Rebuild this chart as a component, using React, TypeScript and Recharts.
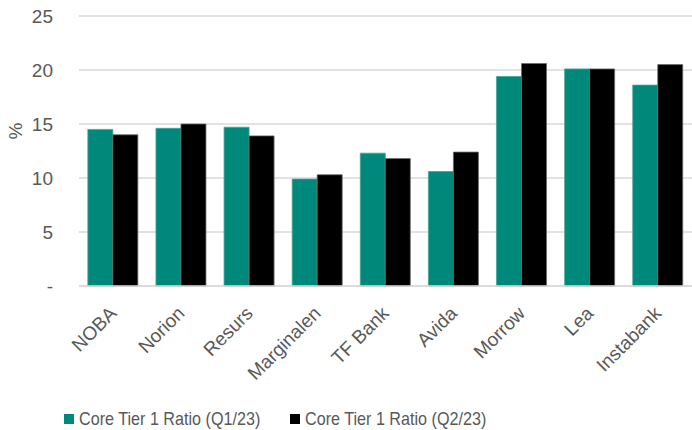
import { BarChart, Bar, XAxis, YAxis, CartesianGrid, Legend } from 'recharts'

const banks = ['NOBA', 'Norion', 'Resurs', 'Marginalen', 'TF Bank', 'Avida', 'Morrow', 'Lea', 'Instabank']
const q1 = [14.5, 14.6, 14.7, 9.9, 12.3, 10.6, 19.4, 20.1, 18.6]
const q2 = [14.0, 15.0, 13.9, 10.3, 11.8, 12.4, 20.6, 20.1, 20.5]
const yTicks = [0, 5, 10, 15, 20, 25]

const seriesNames = ['Core Tier 1 Ratio (Q1/23)', 'Core Tier 1 Ratio (Q2/23)']
const TEAL = '#00897B'
const TEXT = '#595959'
const FONT = "'Liberation Sans', Arial, sans-serif"

const data = banks.map((name, i) => ({ name, q1: q1[i], q2: q2[i] }))

function AngledTick({ x, y, payload }: any) {
  const ty = y + 16
  return (
    <text
      x={x}
      y={ty}
      transform={`rotate(-45, ${x}, ${ty})`}
      textAnchor="end"
      dominantBaseline="central"
      fill={TEXT}
      fontSize={19}
      fontFamily={FONT}
    >
      {payload.value}
    </text>
  )
}

function PctLabel({ viewBox }: any) {
  const cx = 15
  const cy = viewBox.y + viewBox.height / 2 - 20
  return (
    <text
      x={cx}
      y={cy}
      transform={`rotate(-90, ${cx}, ${cy})`}
      textAnchor="middle"
      dominantBaseline="central"
      fill={TEXT}
      fontSize={19}
      fontFamily={FONT}
    >
      %
    </text>
  )
}

// the original legend uses a narrow face; squeeze the regular one instead
function LegendBox() {
  const colors = [TEAL, '#000000']
  return (
    <div style={{ height: 34, paddingTop: 12, paddingLeft: 64, display: 'flex', boxSizing: 'border-box' }}>
      {seriesNames.map((s, i) => (
        <div key={s} style={{ display: 'flex', alignItems: 'center', width: 226, height: 22 }}>
          <span style={{ width: 10, height: 10, background: colors[i], marginRight: 5, display: 'inline-block', flex: 'none' }} />
          <span
            style={{
              fontFamily: FONT,
              fontSize: 19,
              color: TEXT,
              whiteSpace: 'nowrap',
              display: 'inline-block',
              transform: 'scaleX(0.85)',
              transformOrigin: 'left center',
            }}
          >
            {s}
          </span>
        </div>
      ))}
    </div>
  )
}

export default function App() {
  return (
    <div style={{ position: 'absolute', left: 0, top: 0, width: 692, height: 430, background: '#fff' }}>
      <BarChart
        width={692}
        height={430}
        data={data}
        margin={{ top: 16, right: 0, bottom: 0, left: 0 }}
        barCategoryGap="13%"
        barGap={0}
      >
        <CartesianGrid vertical={false} stroke="#D9D9D9" strokeWidth={1.3} />
        <XAxis
          dataKey="name"
          interval={0}
          height={110}
          tickLine={false}
          axisLine={{ stroke: '#D9D9D9', strokeWidth: 1.3 }}
          tick={<AngledTick />}
        />
        <YAxis
          width={79}
          domain={[0, 25]}
          ticks={yTicks}
          tickLine={false}
          axisLine={false}
          tickMargin={20}
          tickFormatter={(v: number) => (v === 0 ? '-' : String(v))}
          tick={{ fill: TEXT, fontSize: 19, fontFamily: FONT }}
          label={<PctLabel />}
        />
        <Legend verticalAlign="bottom" align="left" content={<LegendBox />} />
        <Bar dataKey="q1" name={seriesNames[0]} fill={TEAL} stroke="#3FA597" strokeWidth={0.8} isAnimationActive={false} />
        <Bar dataKey="q2" name={seriesNames[1]} fill="#000000" stroke="#6b6b6b" strokeWidth={0.8} isAnimationActive={false} />
      </BarChart>
    </div>
  )
}
